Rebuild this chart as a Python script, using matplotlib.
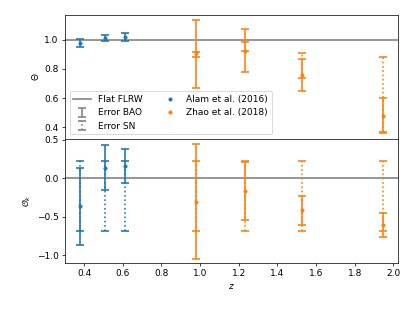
import numpy as np
import matplotlib
matplotlib.use('Agg')
import matplotlib.pyplot as plt

# Данные
z_alam = np.array([0.38, 0.51, 0.61])
z_zhao = np.array([0.978, 1.23, 1.526, 1.944])

# Theta
theta_alam = np.array([0.979, 1.012, 1.017])
theta_alam_bao_lo = np.array([0.947, 0.988, 0.993])
theta_alam_bao_hi = np.array([1.007, 1.034, 1.043])

theta_zhao = np.array([0.908, 0.926, 0.755, 0.476])
theta_zhao_bao_lo = np.array([0.671, 0.777, 0.648, 0.361])
theta_zhao_bao_hi = np.array([1.133, 1.076, 0.867, 0.598])
theta_zhao_sn_lo = np.array([0.883, 0.926, 0.736, 0.365])
theta_zhao_sn_hi = np.array([0.915, 0.984, 0.908, 0.885])

# Omega_k
ok_alam = np.array([-0.364, 0.136, 0.162])
ok_alam_bao_lo = np.array([-0.864, -0.158, -0.066])
ok_alam_bao_hi = np.array([0.136, 0.43, 0.382])

ok_zhao = np.array([-0.303, -0.167, -0.41, -0.61])
ok_zhao_bao_lo = np.array([-1.05, -0.54, -0.60, -0.767])
ok_zhao_bao_hi = np.array([0.44, 0.21, -0.224, -0.45])

ok_sn_lo = -0.684
ok_sn_hi = 0.228

c_alam = '#1f77b4'
c_zhao = '#ff7f0e'
LW = 1.8

fig, (ax1, ax2) = plt.subplots(2, 1, sharex=True, figsize=(6.4, 4.8))
fig.subplots_adjust(left=0.157, right=0.959, top=0.952, bottom=0.154, hspace=0)


def draw_err(ax, x, y, lo, hi, color, ls='-', label=None):
    eb = ax.errorbar(x, y, yerr=[y - lo, hi - y], fmt='none', ecolor=color,
                     elinewidth=LW, capsize=4, capthick=LW, label=label)
    eb[2][0].set_linestyle(ls)
    return eb


# Верхний график: Theta
ax1.axhline(1.0, color='gray', lw=LW, label='Flat FLRW')
draw_err(ax1, z_alam, theta_alam, theta_alam_bao_lo, theta_alam_bao_hi, c_alam)
draw_err(ax1, z_zhao, theta_zhao, theta_zhao_bao_lo, theta_zhao_bao_hi, c_zhao)
draw_err(ax1, z_zhao, theta_zhao, theta_zhao_sn_lo, theta_zhao_sn_hi, c_zhao, ':')
ax1.plot(z_alam, theta_alam, '.', color=c_alam, ms=7, label='Alam et al. (2016)')
ax1.plot(z_zhao, theta_zhao, '.', color=c_zhao, ms=7, label='Zhao et al. (2018)')

# элементы легенды для ошибок (точки вне области)
nan1 = np.array([np.nan])
draw_err(ax1, nan1, nan1, nan1, nan1, 'gray', '-', 'Error BAO')
draw_err(ax1, nan1, nan1, nan1, nan1, 'gray', ':', 'Error SN')

handles, labels = ax1.get_legend_handles_labels()
order = ['Flat FLRW', 'Error BAO', 'Error SN', 'Alam et al. (2016)', 'Zhao et al. (2018)']
hmap = dict(zip(labels, handles))
ax1.legend([hmap[k] for k in order], order, ncol=2, loc='lower left')
ax1.set_ylim(0.32, 1.17)
ax1.set_yticks([0.4, 0.6, 0.8, 1.0])
ax1.set_ylabel(r'$\Theta$')

# Нижний график: Omega_k
ax2.axhline(0.0, color='gray', lw=LW)
draw_err(ax2, z_alam, ok_alam, ok_alam_bao_lo, ok_alam_bao_hi, c_alam)
draw_err(ax2, z_alam, ok_alam, np.full(3, ok_sn_lo), np.full(3, ok_sn_hi), c_alam, ':')
draw_err(ax2, z_zhao, ok_zhao, ok_zhao_bao_lo, ok_zhao_bao_hi, c_zhao)
draw_err(ax2, z_zhao, ok_zhao, np.full(4, ok_sn_lo), np.full(4, ok_sn_hi), c_zhao, ':')
ax2.plot(z_alam, ok_alam, '.', color=c_alam, ms=7)
ax2.plot(z_zhao, ok_zhao, '.', color=c_zhao, ms=7)
ax2.set_ylim(-1.1, 0.51)
ax2.set_yticks([-1.0, -0.5, 0.0, 0.5])
ax2.set_ylabel(r'$\mathcal{O}_k$')
ax2.set_xlabel(r'$z$')

plt.savefig('out.png', dpi=64.8)
